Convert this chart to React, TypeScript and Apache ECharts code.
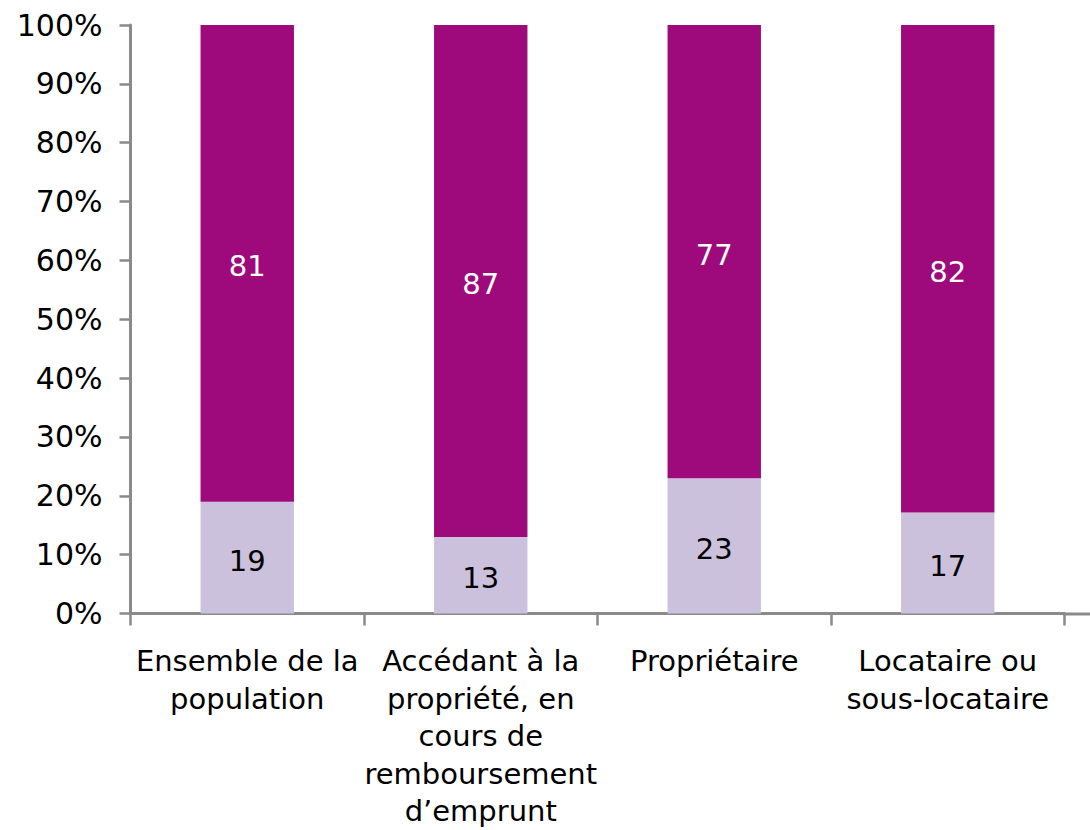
import React, { useEffect, useRef } from "react";
import * as echarts from "echarts";

const categories = [
  "Ensemble de la\npopulation",
  "Accédant à la\npropriété, en\ncours de\nremboursement\nd’emprunt",
  "Propriétaire",
  "Locataire ou\nsous-locataire",
];
const lightValues = [19, 13, 23, 17];
const darkValues = [81, 87, 77, 82];
const yTicks = [0, 10, 20, 30, 40, 50, 60, 70, 80, 90, 100];

const FONT = "'DejaVu Sans', Verdana, sans-serif";
const AXIS_COLOR = "#8a8a8a";

export default function App() {
  const ref = useRef<HTMLDivElement>(null);
  useEffect(() => {
    if (!ref.current) return;
    const chart = echarts.init(ref.current, null, { renderer: "svg" });
    const totals = lightValues.map((v, i) => v + darkValues[i]);
    const lightPct = lightValues.map((v, i) => (v / totals[i]) * 100);
    const darkPct = darkValues.map((v, i) => (v / totals[i]) * 100);
    chart.setOption({
      animation: false,
      textStyle: { fontFamily: FONT },
      grid: { left: 130.5, right: 25.5, top: 25, bottom: 216, containLabel: false },
      graphic: [
        {
          type: "line",
          shape: { x1: 1063, y1: 614, x2: 1090, y2: 614 },
          style: { stroke: AXIS_COLOR, lineWidth: 3 },
          z: 10,
        },
      ],
      xAxis: {
        type: "category",
        data: categories,
        axisLine: { lineStyle: { color: AXIS_COLOR, width: 3 } },
        axisTick: { show: true, length: 12, lineStyle: { color: AXIS_COLOR, width: 2.5 } },
        axisLabel: {
          interval: 0,
          margin: 29,
          color: "#000",
          fontSize: 29,
          fontFamily: FONT,
          lineHeight: 37.5,
          align: "center",
        },
      },
      yAxis: {
        type: "value",
        min: yTicks[0],
        max: yTicks[yTicks.length - 1],
        interval: 10,
        splitLine: { show: false },
        axisLine: { show: true, lineStyle: { color: AXIS_COLOR, width: 3 } },
        axisTick: { show: true, length: 11, lineStyle: { color: AXIS_COLOR, width: 2.5 } },
        axisLabel: {
          margin: 28,
          color: "#000",
          fontSize: 30,
          fontFamily: FONT,
          formatter: "{value}%",
        },
      },
      series: [
        {
          type: "bar",
          stack: "total",
          barWidth: "40%",
          data: lightPct,
          itemStyle: { color: "#cbc1dc" },
          label: {
            show: true,
            position: "inside",
            offset: [0, 3],
            color: "#000",
            fontSize: 29,
            fontFamily: FONT,
            formatter: (p: any) => String(lightValues[p.dataIndex]),
          },
        },
        {
          type: "bar",
          stack: "total",
          barWidth: "40%",
          data: darkPct,
          itemStyle: { color: "#9e0a7b" },
          label: {
            show: true,
            position: "inside",
            offset: [0, 3],
            color: "#fff",
            fontSize: 29,
            fontFamily: FONT,
            formatter: (p: any) => String(darkValues[p.dataIndex]),
          },
        },
      ],
    });
    return () => chart.dispose();
  }, []);
  return (
    <div
      ref={ref}
      style={{ position: "fixed", left: 0, top: 0, width: 1090, height: 830, background: "#fff" }}
    />
  );
}
